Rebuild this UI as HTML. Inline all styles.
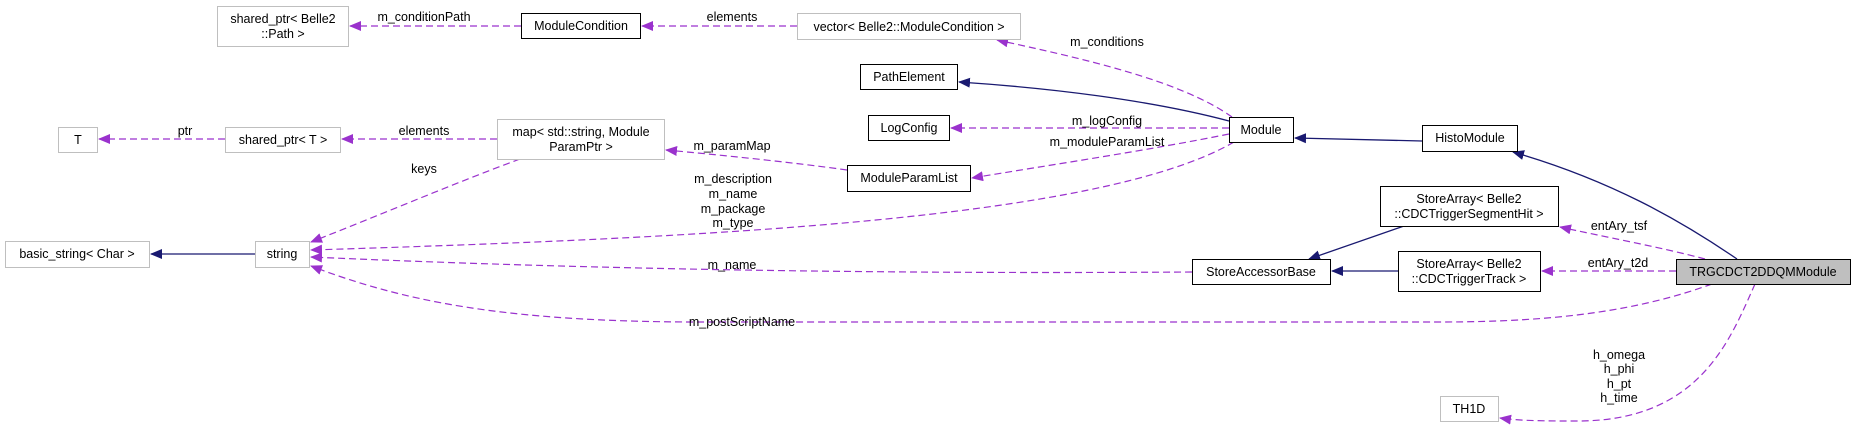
<!DOCTYPE html>
<html><head><meta charset="utf-8"><style>
html,body{margin:0;padding:0;background:#fff;}
svg{display:block;}
text{font-family:"Liberation Sans",Helvetica,sans-serif;font-size:12.5px;fill:#000;}
</style></head><body>
<svg width="1856" height="429" viewBox="0 0 1856 429" xmlns="http://www.w3.org/2000/svg">
<defs>
<marker id="p" markerWidth="12" markerHeight="10" refX="11" refY="5" orient="auto" markerUnits="userSpaceOnUse"><path d="M0,0 L12,5 L0,10 z" fill="#9a32cd"/></marker>
<marker id="n" markerWidth="12" markerHeight="10" refX="11" refY="5" orient="auto" markerUnits="userSpaceOnUse"><path d="M0,0 L12,5 L0,10 z" fill="#191970"/></marker>
</defs>
<g fill="none" stroke="#9a32cd" stroke-width="1.2" stroke-dasharray="7,4">
<path d="M521,26 L350,26" marker-end="url(#p)"/>
<path d="M797,26 L642,26" marker-end="url(#p)"/>
<path d="M497,139 L342,139" marker-end="url(#p)"/>
<path d="M225,139 L99,139" marker-end="url(#p)"/>
<path d="M1232,117 C1180,80 1080,58 997,40" marker-end="url(#p)"/>
<path d="M1229,128 L951,128" marker-end="url(#p)"/>
<path d="M1229,134 C1150,150 1050,165 972,178" marker-end="url(#p)"/>
<path d="M847,170 C790,162 720,155 666,150" marker-end="url(#p)"/>
<path d="M520,159 C450,185 380,215 311,242" marker-end="url(#p)"/>
<path d="M1234,142 C1100,220 700,238 311,250" marker-end="url(#p)"/>
<path d="M1192,272 C900,274 600,270 311,257" marker-end="url(#p)"/>
<path d="M1712,284 C1640,310 1560,322 1440,322 L700,322 C500,322 400,300 311,266" marker-end="url(#p)"/>
<path d="M1705,259 C1660,247 1600,236 1560,227" marker-end="url(#p)"/>
<path d="M1676,271 L1542,271" marker-end="url(#p)"/>
<path d="M1755,284 C1730,340 1700,420 1580,421 C1550,421 1520,421 1500,418" marker-end="url(#p)"/>
</g>
<g fill="none" stroke="#191970" stroke-width="1.3">
<path d="M1229,121 C1150,100 1050,88 959,82" marker-end="url(#n)"/>
<path d="M1422,141 L1295,138" marker-end="url(#n)"/>
<path d="M1737,259 C1680,220 1610,180 1513,152" marker-end="url(#n)"/>
<path d="M1404,226 L1309,259" marker-end="url(#n)"/>
<path d="M1398,271 L1332,271" marker-end="url(#n)"/>
<path d="M255,254 L151,254" marker-end="url(#n)"/>
</g>
<g stroke-width="1" fill="#fff">
<rect x="217.5" y="6.5" width="131" height="40" stroke="#bfbfbf"/>
<rect x="521.5" y="13.5" width="119" height="25" stroke="#000"/>
<rect x="797.5" y="13.5" width="223" height="26" stroke="#bfbfbf"/>
<rect x="860.5" y="64.5" width="97" height="25" stroke="#000"/>
<rect x="868.5" y="115.5" width="81" height="25" stroke="#000"/>
<rect x="847.5" y="165.5" width="123" height="26" stroke="#000"/>
<rect x="58.5" y="127.5" width="39" height="25" stroke="#bfbfbf"/>
<rect x="225.5" y="127.5" width="115" height="25" stroke="#bfbfbf"/>
<rect x="497.5" y="119.5" width="167" height="40" stroke="#bfbfbf"/>
<rect x="5.5" y="241.5" width="144" height="26" stroke="#bfbfbf"/>
<rect x="255.5" y="241.5" width="54" height="26" stroke="#bfbfbf"/>
<rect x="1229.5" y="117.5" width="64" height="25" stroke="#000"/>
<rect x="1422.5" y="125.5" width="95" height="26" stroke="#000"/>
<rect x="1380.5" y="186.5" width="178" height="40" stroke="#000"/>
<rect x="1192.5" y="259.5" width="138" height="25" stroke="#000"/>
<rect x="1398.5" y="251.5" width="142" height="40" stroke="#000"/>
<rect x="1676.5" y="259.5" width="174" height="25" stroke="#000" fill="#bfbfbf"/>
<rect x="1440.5" y="396.5" width="58" height="25" stroke="#bfbfbf"/>
</g>
<g text-anchor="middle">
<text x="283" y="23">shared_ptr&lt; Belle2</text><text x="283" y="38">::Path &gt;</text>
<text x="581" y="30">ModuleCondition</text>
<text x="909" y="31">vector&lt; Belle2::ModuleCondition &gt;</text>
<text x="909" y="81">PathElement</text>
<text x="909" y="132">LogConfig</text>
<text x="909" y="182">ModuleParamList</text>
<text x="78" y="144">T</text>
<text x="283" y="144">shared_ptr&lt; T &gt;</text>
<text x="581" y="136">map&lt; std::string, Module</text><text x="581" y="151">ParamPtr &gt;</text>
<text x="77" y="258">basic_string&lt; Char &gt;</text>
<text x="282" y="258">string</text>
<text x="1261" y="134">Module</text>
<text x="1470" y="142">HistoModule</text>
<text x="1469" y="203">StoreArray&lt; Belle2</text><text x="1469" y="218">::CDCTriggerSegmentHit &gt;</text>
<text x="1261" y="276">StoreAccessorBase</text>
<text x="1469" y="268">StoreArray&lt; Belle2</text><text x="1469" y="283">::CDCTriggerTrack &gt;</text>
<text x="1763" y="276">TRGCDCT2DDQMModule</text>
<text x="1469" y="413">TH1D</text>
<text x="424" y="21">m_conditionPath</text>
<text x="732" y="21">elements</text>
<text x="185" y="135">ptr</text>
<text x="424" y="135">elements</text>
<text x="424" y="173">keys</text>
<text x="1107" y="46">m_conditions</text>
<text x="1107" y="125">m_logConfig</text>
<text x="1107" y="146">m_moduleParamList</text>
<text x="732" y="150">m_paramMap</text>
<text x="733" y="183">m_description</text><text x="733" y="198">m_name</text><text x="733" y="213">m_package</text><text x="733" y="227">m_type</text>
<text x="732" y="269">m_name</text>
<text x="742" y="326">m_postScriptName</text>
<text x="1619" y="230">entAry_tsf</text>
<text x="1618" y="267">entAry_t2d</text>
<text x="1619" y="359">h_omega</text><text x="1619" y="373">h_phi</text><text x="1619" y="388">h_pt</text><text x="1619" y="402">h_time</text>
</g>
</svg>
</body></html>
